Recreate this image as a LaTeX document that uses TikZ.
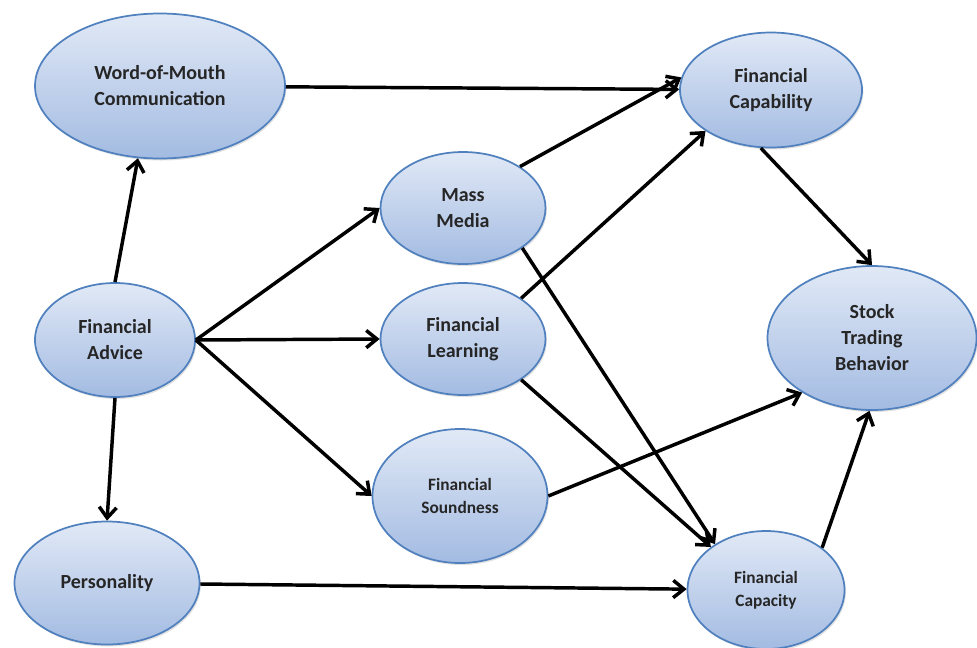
\documentclass[tikz,border=0pt]{standalone}
\usepackage{fontspec}
\setmainfont{Carlito}
\usetikzlibrary{arrows.meta,shapes.geometric,shadows}
\definecolor{nodetop}{HTML}{E1E9F6}
\definecolor{nodebot}{HTML}{A3BBE2}
\definecolor{nodeline}{HTML}{5081BE}
\definecolor{nodetext}{HTML}{262626}
\tikzset{
  latentvar/.style={ellipse, draw=nodeline, line width=1.3pt, top color=nodetop, bottom color=nodebot,
    inner sep=0pt, align=center, text=nodetext, font=\bfseries\fontsize{15}{19.5}\selectfont,
    drop shadow={shadow xshift=1pt, shadow yshift=-1.5pt, opacity=.2, fill=black!60}},
  smalltext/.style={font=\bfseries\fontsize{13}{17}\selectfont},
  link/.style={-{Straight Barb[length=8pt,width=13pt]}, line width=2.6pt, black}
}
\begin{document}
\begin{tikzpicture}[x=0.75pt,y=-0.75pt]
  \useasboundingbox (0,0) rectangle (977,647);
  \node[latentvar, minimum width=187.5pt, minimum height=108.75pt] (WM) at (160,86) {Word-of-Mouth\\Communication};
  \node[latentvar, minimum width=136.5pt, minimum height=86.25pt] (CB) at (771,90) {Financial\\Capability};
  \node[latentvar, minimum width=123.75pt, minimum height=84pt] (MM) at (463,208) {Mass\\Media};
  \node[latentvar, minimum width=123.75pt, minimum height=84pt] (FL) at (463,339) {Financial\\Learning};
  \node[latentvar, minimum width=120pt, minimum height=85.5pt] (FA) at (115,340) {Financial\\Advice};
  \node[latentvar, minimum width=156.75pt, minimum height=108pt] (ST) at (872,338) {Stock\\Trading\\Behavior};
  \node[latentvar, smalltext, minimum width=131.25pt, minimum height=100.5pt] (FS) at (460,496) {Financial\\Soundness};
  \node[latentvar, minimum width=138.75pt, minimum height=92.25pt] (PE) at (107,583) {Personality};
  \node[latentvar, smalltext, minimum width=117.75pt, minimum height=88.5pt] (CP) at (766,590) {Financial\\Capacity};
  \draw[link] (FA.north) -- (WM.253);
  \draw[link] (WM) -- (CB);
  \draw[link] (FA.east) -- (MM.west);
  \draw[link] (FA.east) -- (FL.west);
  \draw[link] (FA.east) -- (FS.west);
  \draw[link] (FA.south) -- (PE.north);
  \draw[link] (PE) -- (CP);
  \draw[link] (MM.36) -- (CB.172);
  \draw[link] (FL.35) -- (CB.212);
  \draw[link] (MM.326) -- (CP.138);
  \draw[link] (FL.325) -- (CP.142);
  \draw[link] (CB.260) -- (ST.north);
  \draw[link] (FS.east) -- (ST.218);
  \draw[link] (CP.37) -- (ST.268);
\end{tikzpicture}
\end{document}
